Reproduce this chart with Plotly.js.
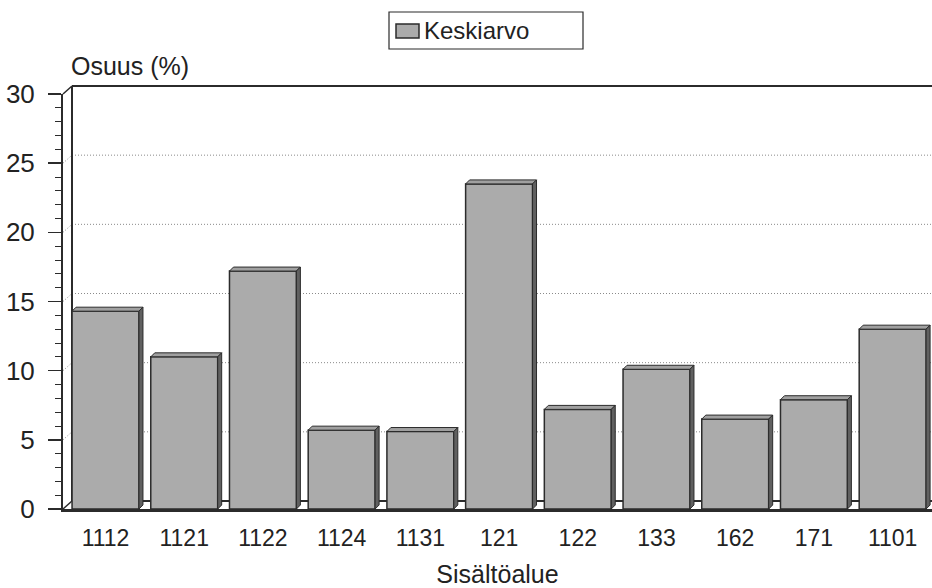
<!DOCTYPE html>
<html>
<head>
<meta charset="utf-8">
<script src="https://cdn.plot.ly/plotly-3.0.1.min.js"></script>
<style>
  html, body { margin: 0; padding: 0; background: #fff; }
  #chart { width: 932px; height: 588px; }
</style>
</head>
<body>
<div id="chart"></div>
<script>
// Data
const categories = ['1112', '1121', '1122', '1124', '1131', '121', '122', '133', '162', '171', '1101'];
const keskiarvo = [14.3, 11.0, 17.2, 5.7, 5.6, 23.5, 7.2, 10.1, 6.5, 7.9, 13.0];
const yTickVals = [0, 5, 10, 15, 20, 25, 30];
const seriesName = 'Keskiarvo';
const xTitle = 'Sisältöalue';
const yTitle = 'Osuus (%)';

// Geometry and style
const W = 932, H = 588;
const M = { l: 63, r: 0, t: 94, b: 79 };
const plotW = W - M.l - M.r;
const plotH = H - M.t - M.b;
const xRange = [-0.54, categories.length - 0.5];
const yRange = [0, 30];
const pxPerX = plotW / (xRange[1] - xRange[0]);
const pxPerY = plotH / (yRange[1] - yRange[0]);
const barFrac = 0.85;
const halfW = barFrac * pxPerX / 2;
const depth = 4;          // bar extrusion in px
const wallDx = 9, wallDy = 8; // back wall offset in px
const FONT = 'Liberation Sans, Arial, Helvetica, sans-serif';
const INK = '#2b2b2b';
const FACE = '#ababab', TOP = '#a0a0a0', SIDE = '#606060';

const xIdx = categories.map((_, i) => i);

const shapes = [];

// Pixel-space line anchored at the plot's bottom-left corner
function wallLine(x0, y0, x1, y1, line, layer) {
  return {
    type: 'line', xref: 'paper', yref: 'paper',
    xsizemode: 'pixel', ysizemode: 'pixel', xanchor: 0, yanchor: 0,
    x0: x0, y0: y0, x1: x1, y1: y1, line: line, layer: layer || 'below'
  };
}

// Back wall gridlines and their trace on the side wall
const gridLine = { color: '#8a8a8a', width: 1, dash: '1px,2px' };
yTickVals.filter(v => v > yRange[0] && v < yRange[1]).forEach(v => {
  const yp = (v - yRange[0]) * pxPerY;
  shapes.push(wallLine(wallDx, yp + wallDy, plotW, yp + wallDy, gridLine));
  shapes.push(wallLine(0, yp, wallDx, yp + wallDy, gridLine));
});

// Back wall frame and depth edges
const edge = { color: INK, width: 2 };
shapes.push(wallLine(wallDx, wallDy, plotW, wallDy, edge));
shapes.push(wallLine(wallDx, wallDy, wallDx, plotH + wallDy, edge));
shapes.push(wallLine(wallDx, plotH + wallDy, plotW, plotH + wallDy, edge));
shapes.push(wallLine(0, 0, wallDx, wallDy, { color: INK, width: 1.5 }));
shapes.push(wallLine(0, plotH, wallDx, plotH + wallDy, { color: INK, width: 1.5 }));

// Extruded top and right faces of each bar
keskiarvo.forEach((v, i) => {
  const hp = (v - yRange[0]) * pxPerY;
  const common = {
    type: 'path', xref: 'x', yref: 'y',
    xsizemode: 'pixel', ysizemode: 'pixel', xanchor: i, yanchor: v,
    line: { color: INK, width: 1 }, layer: 'above'
  };
  shapes.push(Object.assign({}, common, {
    path: `M${-halfW},0 L${-halfW + depth},${depth} L${halfW + depth},${depth} L${halfW},0 Z`,
    fillcolor: TOP
  }));
  shapes.push(Object.assign({}, common, {
    path: `M${halfW},0 L${halfW + depth},${depth} L${halfW + depth},${-hp + depth} L${halfW},${-hp} Z`,
    fillcolor: SIDE
  }));
});

// Legend box
function px2paperX(px) { return (px - M.l) / plotW; }
function px2paperY(py) { return (H - M.b - py) / plotH; }
shapes.push({
  type: 'rect', xref: 'paper', yref: 'paper',
  x0: px2paperX(389), x1: px2paperX(583), y0: px2paperY(49), y1: px2paperY(12),
  line: { color: INK, width: 1.2 }, fillcolor: '#fff', layer: 'above'
});
shapes.push({
  type: 'rect', xref: 'paper', yref: 'paper',
  x0: px2paperX(396), x1: px2paperX(419), y0: px2paperY(38), y1: px2paperY(24),
  line: { color: INK, width: 1.5 }, fillcolor: FACE, layer: 'above'
});

const annotations = [
  {
    text: seriesName, xref: 'paper', yref: 'paper',
    x: px2paperX(422), y: px2paperY(31), xanchor: 'left', yanchor: 'middle',
    showarrow: false, font: { family: FONT, size: 24, color: '#222' }
  },
  {
    text: yTitle, xref: 'paper', yref: 'paper',
    x: px2paperX(69), y: px2paperY(66), xanchor: 'left', yanchor: 'middle',
    showarrow: false, font: { family: FONT, size: 25, color: '#222' }
  }
];

const trace = {
  type: 'bar',
  name: seriesName,
  x: xIdx,
  y: keskiarvo,
  width: barFrac,
  marker: { color: FACE, line: { color: INK, width: 1.5 } },
  hoverinfo: 'skip'
};

const layout = {
  width: W, height: H,
  margin: M,
  paper_bgcolor: '#fff', plot_bgcolor: 'rgba(0,0,0,0)',
  showlegend: false,
  font: { family: FONT, color: '#222' },
  xaxis: {
    range: xRange, tickvals: xIdx, ticktext: categories,
    showline: true, linecolor: INK, linewidth: 2.5, mirror: false,
    ticks: '', showgrid: false, zeroline: false,
    tickfont: { family: FONT, size: 23, color: '#222' },
    ticklabelstandoff: 7,
    title: { text: xTitle, font: { family: FONT, size: 25, color: '#222' }, standoff: 20 },
    fixedrange: true
  },
  yaxis: {
    range: yRange, tickvals: yTickVals,
    ticks: 'outside', ticklen: 13, tickwidth: 1.5, tickcolor: INK,
    minor: { dtick: 1, ticks: 'outside', ticklen: 6, tickwidth: 1, tickcolor: INK, showgrid: false },
    showline: true, linecolor: INK, linewidth: 2,
    showgrid: false, zeroline: false,
    tickfont: { family: FONT, size: 26, color: '#222' },
    ticklabelstandoff: 8,
    fixedrange: true
  },
  shapes: shapes,
  annotations: annotations
};

Plotly.newPlot('chart', [trace], layout, { displayModeBar: false, staticPlot: true });
</script>
</body>
</html>
